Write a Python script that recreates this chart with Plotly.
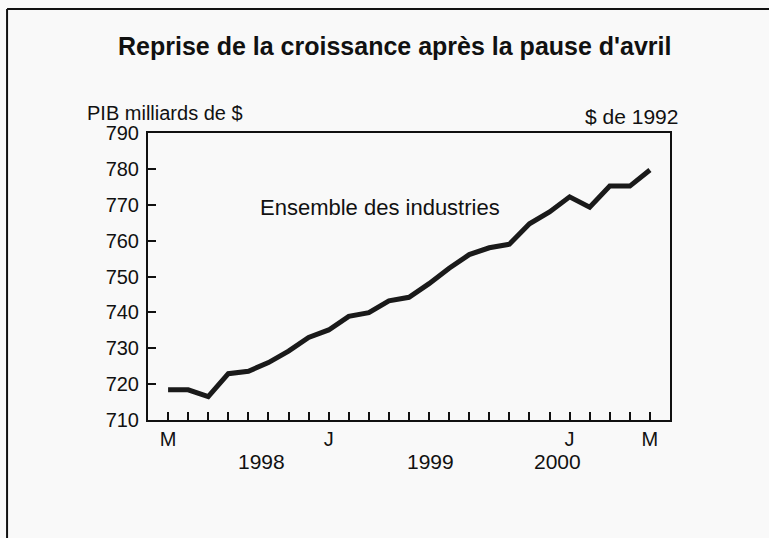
import plotly.graph_objects as go

# mai 1998 -> mai 2000, PIB en milliards de $ de 1992
mois = list(range(25))
pib = [718.4, 718.4, 716.5, 722.9, 723.6, 726.0, 729.2, 733.0, 735.1, 738.9,
       739.9, 743.2, 744.2, 748.0, 752.3, 756.1, 758.0, 759.0, 764.7, 768.0,
       772.2, 769.3, 775.2, 775.2, 779.7]
etiquettes_mois = {0: "M", 8: "J", 20: "J", 24: "M"}
annees = ["1998", "1999", "2000"]
pos_annees = [4.63, 13.09, 19.41]
y_ticks = [710, 720, 730, 740, 750, 760, 770, 780, 790]

police = "Liberation Sans, Arial, sans-serif"
fond = "#f9f9f9"
encre = "#111111"

fig = go.Figure()
fig.add_trace(go.Scatter(x=mois, y=pib, mode="lines",
                         line=dict(color="#1a1a1a", width=5),
                         hoverinfo="skip", showlegend=False))

fig.update_xaxes(range=[-1, 25], tickvals=mois,
                 ticktext=[etiquettes_mois.get(m, "") for m in mois],
                 ticks="inside", ticklen=8, tickwidth=2, tickcolor=encre,
                 showline=True, linewidth=2, linecolor=encre, mirror=True,
                 showgrid=False, zeroline=False, ticklabelstandoff=0,
                 tickfont=dict(size=20, color=encre))
fig.update_yaxes(range=[710, 790], tickvals=y_ticks,
                 ticks="inside", ticklen=8, tickwidth=2, tickcolor=encre,
                 showline=True, linewidth=2, linecolor=encre, mirror=True,
                 showgrid=False, zeroline=False, ticklabelstandoff=3,
                 tickfont=dict(size=20, color=encre))

for a, p in zip(annees, pos_annees):
    fig.add_annotation(x=p, y=-0.146, xref="x", yref="paper", text=a,
                       showarrow=False, yanchor="middle",
                       font=dict(size=21, color=encre))

fig.add_annotation(x=0.473, y=1.303, xref="paper", yref="paper",
                   text="<b>Reprise de la croissance après la pause d'avril</b>",
                   showarrow=False, yanchor="middle",
                   font=dict(size=25, color=encre))
fig.add_annotation(x=-0.121, y=1.068, xref="paper", yref="paper",
                   text="PIB milliards de $", showarrow=False,
                   xanchor="left", yanchor="middle",
                   font=dict(size=20, color=encre))
fig.add_annotation(x=1.019, y=1.059, xref="paper", yref="paper",
                   text="$ de 1992", showarrow=False,
                   xanchor="right", yanchor="middle",
                   font=dict(size=21, color=encre))
fig.add_annotation(x=4.48, y=769.2, text="Ensemble des industries",
                   showarrow=False, xanchor="left", yanchor="middle",
                   font=dict(size=22, color=encre))

# cadre partiel (haut et gauche) de l'image d'origine
fig.add_shape(type="line", xref="paper", yref="paper",
              x0=-0.270, y0=1.432, x1=1.3, y1=1.432,
              line=dict(color=encre, width=2))
fig.add_shape(type="line", xref="paper", yref="paper",
              x0=-0.270, y0=1.432, x1=-0.270, y1=-0.5,
              line=dict(color=encre, width=2))

fig.update_layout(
    width=769, height=538,
    margin=dict(l=148, r=99, t=133, b=118),
    paper_bgcolor=fond, plot_bgcolor=fond,
    font=dict(family=police, color=encre),
    showlegend=False,
)

fig.write_html("out.html", config={"displayModeBar": False},
               post_script="document.body.style.margin='0';"
                           "document.body.style.background='#f9f9f9';")
